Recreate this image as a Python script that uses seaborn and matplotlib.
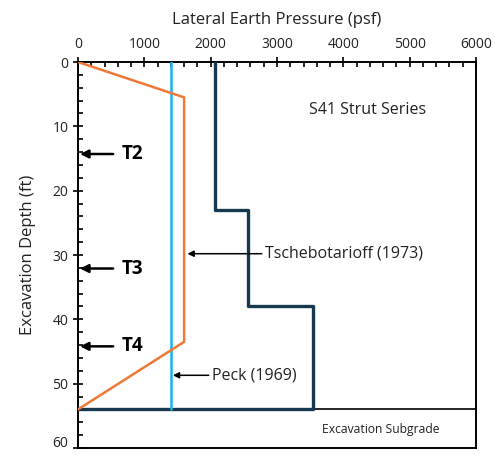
import matplotlib
matplotlib.use("Agg")
import matplotlib.pyplot as plt
from matplotlib.ticker import MultipleLocator, FuncFormatter
import pandas as pd
import seaborn as sns

# Apparent earth pressure envelopes (psf) versus excavation depth (ft)
tsch_pressure = [0, 1600, 1600, 0]
tsch_depth = [0, 5.5, 43.5, 54]
peck_pressure = [1400, 1400]
peck_depth = [0, 54]
s41_pressure = [2060, 2060, 2560, 2560, 3550, 3550, 0]
s41_depth = [0, 23, 23, 38, 38, 54, 54]

subgrade_depth = 54
max_depth = 60
strut_labels = ["T2", "T3", "T4"]
strut_depths = [14.3, 32.1, 44.2]

sns.set_style("white")
plt.rcParams["font.family"] = ["Open Sans", "DejaVu Sans"]

fig = plt.figure(figsize=(4.95, 4.55), dpi=100)
ax = fig.add_axes([0.1576, 0.0154, 0.8040, 0.8483])

tsch = pd.DataFrame({"p": tsch_pressure, "d": tsch_depth})
peck = pd.DataFrame({"p": peck_pressure, "d": peck_depth})
s41 = pd.DataFrame({"p": s41_pressure, "d": s41_depth})

ax.axhline(subgrade_depth, color="black", lw=1.2, zorder=1)
sns.lineplot(data=s41, x="p", y="d", sort=False, estimator=None,
             color="#17394F", lw=2.4, ax=ax, zorder=3)
sns.lineplot(data=peck, x="p", y="d", sort=False, estimator=None,
             color="#14B4EE", lw=1.8, ax=ax, zorder=4)
sns.lineplot(data=tsch, x="p", y="d", sort=False, estimator=None,
             color="#EE7836", lw=1.8, ax=ax, zorder=5)

ax.set_xlim(0, 6000)
ax.set_ylim(max_depth, 0)
ax.xaxis.set_major_locator(MultipleLocator(1000))
ax.xaxis.set_minor_locator(MultipleLocator(200))
ax.yaxis.set_major_locator(MultipleLocator(10))
ax.yaxis.set_minor_locator(MultipleLocator(2))
# the bottom depth label is drawn separately, nudged up off the canvas edge
ax.yaxis.set_major_formatter(
    FuncFormatter(lambda v, _: "" if v >= max_depth else f"{v:.0f}"))
ax.xaxis.tick_top()
ax.xaxis.set_label_position("top")
ax.tick_params(axis="both", which="major", direction="inout", length=7,
               width=1.2, labelsize=10, color="black", labelcolor="#222222")
ax.tick_params(axis="both", which="minor", direction="in", length=3.5,
               width=1.2, color="black")
ax.tick_params(axis="x", which="both", top=True, bottom=False, pad=4)
ax.tick_params(axis="y", which="both", left=True, right=False)
for s in ax.spines.values():
    s.set_color("black")
    s.set_linewidth(1.4)

ax.annotate(f"{max_depth}", xy=(0, max_depth),
            xycoords=ax.get_yaxis_transform(), xytext=(-7, 3),
            textcoords="offset points", ha="right", va="center",
            fontsize=10, color="#222222", annotation_clip=False)

ax.set_xlabel("Lateral Earth Pressure (psf)", fontsize=12, color="#222222",
              labelpad=9)
ax.set_ylabel("Excavation Depth (ft)", fontsize=12, color="#222222",
              labelpad=12)

arrow = dict(arrowstyle="-|>", color="black", lw=1.8, mutation_scale=12,
             shrinkA=0, shrinkB=0)
for lab, dep in zip(strut_labels, strut_depths):
    ax.annotate("", xy=(30, dep), xytext=(530, dep), arrowprops=arrow)
    ax.text(660, dep, lab, fontsize=13.5, fontweight="bold", va="center",
            ha="left", color="black")

thin = dict(arrowstyle="-|>", color="black", lw=1.1, mutation_scale=9,
            shrinkA=0, shrinkB=0)
ax.annotate("Tschebotarioff (1973)", xy=(1650, 29.8), xytext=(2820, 29.8),
            fontsize=11.5, va="center", ha="left", color="#222222",
            arrowprops=thin)
ax.annotate("Peck (1969)", xy=(1430, 48.7), xytext=(2020, 48.7),
            fontsize=11.5, va="center", ha="left", color="#222222",
            arrowprops=thin)
ax.text(4370, 7.4, "S41 Strut Series", fontsize=11.5, ha="center",
        va="center", color="#222222")
ax.text(4570, 57.1, "Excavation Subgrade", fontsize=8.7, ha="center",
        va="center", color="#222222")

fig.savefig("out.png", dpi=100)
